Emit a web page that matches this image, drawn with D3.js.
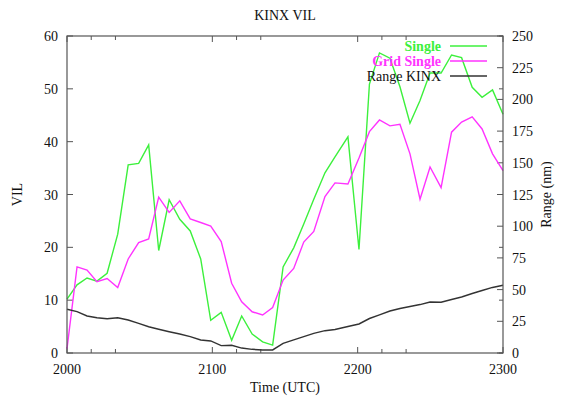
<!DOCTYPE html>
<html>
<head>
<meta charset="utf-8">
<script src="https://cdn.jsdelivr.net/npm/d3@7"></script>
<style>
  html, body { margin: 0; padding: 0; background: #fff; }
  svg { display: block; }
  text { font-family: "Liberation Serif", "DejaVu Serif", serif; }
</style>
</head>
<body>
<div id="chart"></div>
<script>
// ---- data ----
const times = [2000, 2006.9, 2013.8, 2020.6, 2027.6, 2034.9, 2042.1, 2049.3, 2056.2, 2063.1,
  2070.3, 2077.6, 2084.8, 2092.0, 2098.9, 2106.1, 2113.3, 2120.2, 2127.4, 2134.6,
  2141.5, 2148.7, 2156.0, 2162.9, 2169.8, 2177.5, 2184.4, 2193.3, 2200.9, 2208.1,
  2215.0, 2222.2, 2229.1, 2236.0, 2242.9, 2249.8, 2257.4, 2264.6, 2271.5, 2278.8,
  2285.6, 2292.8, 2300];
const single = [10.2, 12.9, 14.2, 13.6, 15.1, 22.5, 35.6, 35.9, 39.4, 19.4,
  29.0, 25.3, 23.1, 17.8, 6.2, 7.7, 2.4, 7.0, 3.6, 2.1,
  1.5, 16.3, 19.9, 24.4, 29.1, 34.1, 37.1, 40.9, 19.6, 50.9,
  56.8, 55.8, 50.4, 43.5, 47.8, 53.0, 53.0, 56.4, 55.9, 50.3,
  48.4, 49.8, 45.2];
const gridSingle = [0.8, 16.3, 15.7, 13.5, 14.1, 12.4, 17.8, 20.9, 21.6, 29.5,
  26.6, 28.8, 25.4, 24.7, 24.0, 21.1, 13.2, 9.7, 7.8, 7.2,
  8.6, 13.8, 16.0, 21.0, 23.0, 29.6, 32.2, 32.0, 36.9, 41.9,
  44.1, 43.0, 43.3, 37.7, 29.1, 35.2, 31.3, 41.8, 43.7, 44.7,
  42.4, 37.7, 34.5];
const rangeKINX = [34.5, 32.6, 29.2, 27.8, 27.0, 27.8, 26.0, 23.4, 20.7, 18.7,
  16.8, 15.0, 12.9, 10.3, 9.5, 5.8, 6.1, 3.9, 2.9, 2.4,
  2.4, 7.6, 10.3, 12.9, 15.5, 17.6, 18.5, 20.9, 22.9, 27.2,
  30.0, 33.1, 35.1, 36.7, 38.2, 40.2, 40.0, 42.2, 44.2, 46.9,
  49.3, 51.7, 53.4];
const xMajorTicks = [2000, 2100, 2200, 2300];
const xMinorTicks = [2016.67, 2033.33, 2116.67, 2133.33, 2216.67, 2233.33];
const yTicks = [0, 10, 20, 30, 40, 50, 60];
const y2Ticks = [0, 25, 50, 75, 100, 125, 150, 175, 200, 225, 250];
const seriesNames = ["Single", "Grid Single", "Range KINX"];
const title = "KINX VIL";
const xLabel = "Time (UTC)";
const yLabel = "VIL";
const y2Label = "Range (nm)";

// ---- layout ----
const W = 570, H = 400;
const L = 67, R = 503, T = 36, B = 353;
const colors = ["#3cf03c", "#ff33ff", "#333333"];

const svg = d3.select("#chart").append("svg").attr("width", W).attr("height", H);

const x = d3.scaleLinear().domain([2000, 2300]).range([L, R]);
const y = d3.scaleLinear().domain([0, 60]).range([B, T]);
const y2 = d3.scaleLinear().domain([0, 250]).range([B, T]);

// frame ticks
const tk = svg.append("g").attr("stroke", "#555").attr("stroke-width", 1);
xMajorTicks.concat(xMinorTicks).forEach(v => {
  const len = xMajorTicks.includes(v) ? 6 : 4;
  tk.append("line").attr("x1", x(v)).attr("x2", x(v)).attr("y1", B).attr("y2", B - len);
  tk.append("line").attr("x1", x(v)).attr("x2", x(v)).attr("y1", T).attr("y2", T + len);
});
yTicks.forEach(v => {
  tk.append("line").attr("x1", L).attr("x2", L + 6).attr("y1", y(v)).attr("y2", y(v));
  tk.append("line").attr("x1", R).attr("x2", R - 4).attr("y1", y(v)).attr("y2", y(v));
});
y2Ticks.forEach(v => {
  tk.append("line").attr("x1", R).attr("x2", R - 6).attr("y1", y2(v)).attr("y2", y2(v));
});

// lines
const idx = d3.range(times.length);
const lineY = arr => d3.line().x(i => x(times[i])).y(i => y(arr[i]));
const lineY2 = arr => d3.line().x(i => x(times[i])).y(i => y2(arr[i]));

const plot = svg.append("g");
plot.append("path").attr("d", lineY(single)(idx)).attr("fill", "none")
  .attr("stroke", colors[0]).attr("stroke-width", 1.4);
plot.append("path").attr("d", lineY(gridSingle)(idx)).attr("fill", "none")
  .attr("stroke", colors[1]).attr("stroke-width", 1.4);
plot.append("path").attr("d", lineY2(rangeKINX)(idx)).attr("fill", "none")
  .attr("stroke", colors[2]).attr("stroke-width", 1.4);

// frame
svg.append("rect").attr("x", L).attr("y", T).attr("width", R - L).attr("height", B - T)
  .attr("fill", "none").attr("stroke", "#555").attr("stroke-width", 1.2);

// tick labels
const fs = 14;
yTicks.forEach(v => {
  svg.append("text").attr("x", L - 9).attr("y", y(v) + 5).attr("text-anchor", "end")
    .attr("font-size", fs).attr("fill", "#111").text(v);
});
y2Ticks.forEach(v => {
  svg.append("text").attr("x", R + 9).attr("y", y2(v) + 5).attr("text-anchor", "start")
    .attr("font-size", fs).attr("fill", "#111").text(v);
});
xMajorTicks.forEach(v => {
  svg.append("text").attr("x", x(v)).attr("y", B + 21).attr("text-anchor", "middle")
    .attr("font-size", fs).attr("fill", "#111").text(v);
});

// titles
svg.append("text").attr("x", (L + R) / 2).attr("y", 20).attr("text-anchor", "middle")
  .attr("font-size", fs).attr("fill", "#111").text(title);
svg.append("text").attr("x", (L + R) / 2).attr("y", 392).attr("text-anchor", "middle")
  .attr("font-size", fs).attr("fill", "#111").text(xLabel);
svg.append("text").attr("transform", `translate(22,${(T + B) / 2}) rotate(-90)`)
  .attr("text-anchor", "middle").attr("font-size", fs).attr("fill", "#111").text(yLabel);
svg.append("text").attr("transform", `translate(551,${(T + B) / 2}) rotate(-90)`)
  .attr("text-anchor", "middle").attr("font-size", fs).attr("fill", "#111").text(y2Label);

// legend
const legX = 441, legY0 = 46, legDY = 15;
seriesNames.forEach((n, i) => {
  const yy = legY0 + i * legDY;
  svg.append("text").attr("x", legX).attr("y", yy + 5).attr("text-anchor", "end")
    .attr("font-size", fs).attr("font-weight", i < 2 ? "bold" : "normal")
    .attr("fill", i < 2 ? colors[i] : "#111").text(n);
  svg.append("line").attr("x1", 450).attr("x2", 487).attr("y1", yy).attr("y2", yy)
    .attr("stroke", colors[i]).attr("stroke-width", 1.4);
});
</script>
</body>
</html>
